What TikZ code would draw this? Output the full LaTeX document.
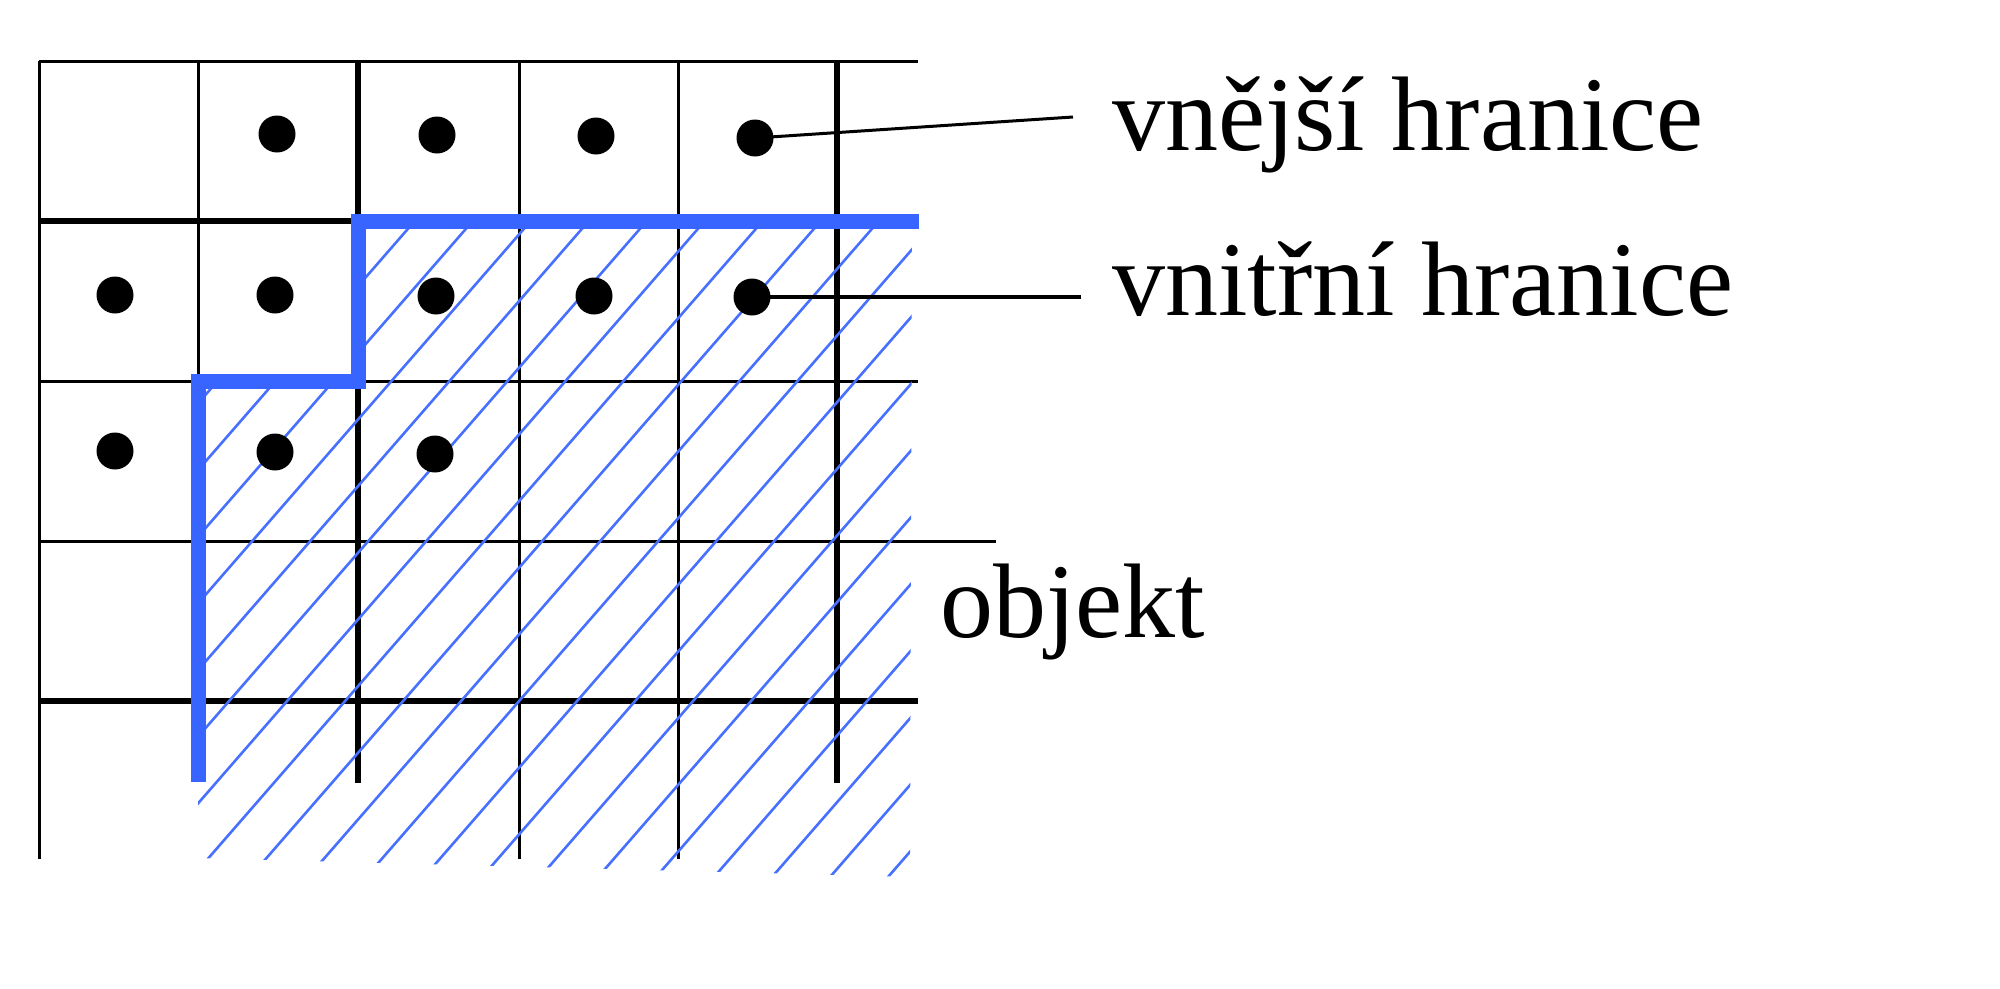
\documentclass[tikz,border=0pt]{standalone}
\usepackage{fontspec}
\setmainfont{Liberation Serif}
\definecolor{bndblue}{RGB}{56,100,255}
\definecolor{hatchblue}{RGB}{72,112,255}
\begin{document}
\begin{tikzpicture}[x=1pt,y=-1pt,
  gridthin/.style={line width=3pt, black},
  gridthick/.style={line width=5.5pt, black},
  hatchline/.style={line width=2.6pt, hatchblue},
  boundary/.style={line width=15pt, bndblue, line join=miter},
  pixdot/.style={circle, fill=black, minimum size=37pt, inner sep=0pt},
  leaderthin/.style={line width=3pt, black},
  leaderthick/.style={line width=4.5pt, black},
  lbl/.style={inner sep=0pt, font=\fontsize{106}{120}\selectfont}]
\useasboundingbox (0,0) rectangle (2000,988);
% vertical grid lines
\draw[gridthin]  (39,61) -- (39,859);
\draw[gridthin]  (198,61) -- (198,381);
\draw[gridthick] (358,61) -- (358,783);
\draw[gridthin]  (519,61) -- (519,859);
\draw[gridthin]  (678,61) -- (678,859);
\draw[gridthick] (837,61) -- (837,783);
% horizontal grid lines
\draw[gridthin]  (39,61) -- (918,61);
\draw[gridthick] (39,221) -- (358,221);
\draw[gridthin]  (39,381) -- (918,381);
\draw[gridthin]  (39,541) -- (996,541);
\draw[gridthick] (39,701) -- (918,701);
% hatching of the object
\begin{scope}
  \clip (198,381) -- (358,381) -- (358,221) -- (912,221) -- (910,877) -- (198,858) -- cycle;
  \foreach \k in {-12,...,12} {
    \draw[hatchline] ({519+58*\k-173},900) -- ({519+58*\k+436},200);
  }
\end{scope}
% boundary of the object
\draw[boundary] (198,782) -- (198,381) -- (358,381) -- (358,221) -- (919,221);
% dots
\node[pixdot] (d12) at (277,134) {};
\node[pixdot] (d13) at (437,135) {};
\node[pixdot] (d14) at (596,136) {};
\node[pixdot] (d15) at (755,138) {};
\node[pixdot] (d21) at (115,295) {};
\node[pixdot] (d22) at (275,295) {};
\node[pixdot] (d23) at (436,296) {};
\node[pixdot] (d24) at (594,296) {};
\node[pixdot] (d25) at (752,297) {};
\node[pixdot] (d31) at (115,451) {};
\node[pixdot] (d32) at (275,452) {};
\node[pixdot] (d33) at (435,454) {};
% labels
\node[lbl, anchor=base west] (outer) at (1112,150) {vnější hranice};
\node[lbl, anchor=base west] (inner) at (1112,315) {vnitřní hranice};
\node[lbl, anchor=base west] (obj) at (940,637) {objekt};
% leaders
\coordinate (l1) at (1073,117);
\coordinate (l2) at (1081,297);
\draw[leaderthin] (d15.center) -- (l1);
\draw[leaderthick] (d25.center) -- (l2);
\end{tikzpicture}
\end{document}
